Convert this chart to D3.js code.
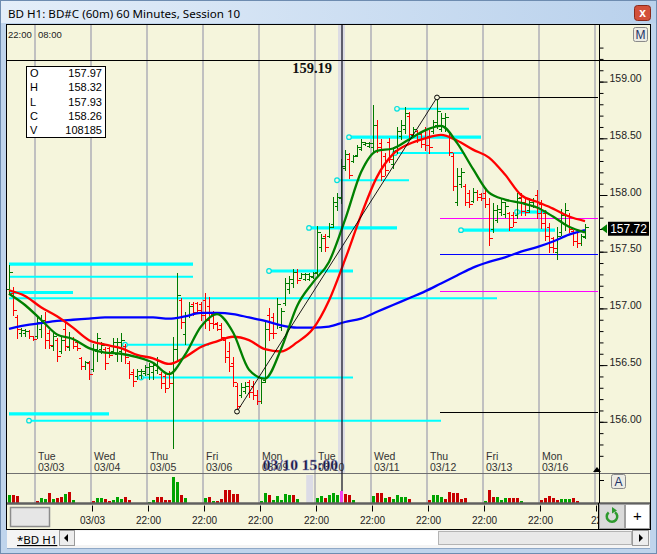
<!DOCTYPE html>
<html>
<head>
<meta charset="utf-8">
<title>BD H1</title>
<script src="https://cdn.jsdelivr.net/npm/d3@7/dist/d3.min.js"></script>
<style>
  body { margin: 0; background: #fff; }
  svg { display: block; }
  text { font-family: "Liberation Sans", Arial, sans-serif; }
</style>
</head>
<body>
<svg id="chart" width="657" height="554"></svg>
<script>
// hourly OHLC, one row per session (first row is the tail of 03/02)
var opens = [
  157.17,157.14,156.92,156.78,156.78,156.80,156.76,
  156.76,156.82,156.90,156.78,156.67,156.72,156.62,156.82,156.66,156.74,156.70,156.56,156.49,156.52,
  156.47,156.62,156.64,156.64,156.65,156.62,156.60,156.62,156.67,156.52,156.44,156.40,156.41,156.43,
  156.42,156.44,156.46,156.42,156.40,156.42,156.34,156.64,157.07,156.77,156.94,157.04,157.05,157.04,
  157.07,157.02,156.95,156.87,156.85,156.72,156.62,156.52,156.32,156.24,156.27,156.35,156.32,156.24,
  156.18,156.37,156.94,156.92,156.86,156.84,157.05,157.17,157.22,157.32,157.27,157.26,157.26,157.28,
  157.32,157.54,157.64,157.64,157.74,157.90,157.97,158.24,158.32,158.30,158.35,158.41,158.45,158.43,
  158.42,158.62,158.46,158.34,158.47,158.27,158.40,158.52,158.58,158.70,158.53,158.56,158.54,158.57,
  158.52,158.56,158.62,158.58,158.60,158.52,158.34,157.94,158.10,158.08,158.02,157.95,158.03,158.01,
  158.02,157.92,157.70,157.78,157.85,157.83,157.84,157.82,157.82,157.98,157.94,157.87,157.90,158.00,
  157.92,157.84,157.72,157.62,157.50,157.67,157.74,157.82,157.68,157.67,157.58,157.63
];
var highs = [
  157.38,157.19,156.94,156.83,156.82,156.81,156.76,
  156.92,156.94,156.97,156.81,156.79,156.74,156.76,156.88,156.79,156.75,156.72,156.57,156.54,156.54,
  156.69,156.78,156.70,156.66,156.66,156.74,156.74,156.78,156.69,156.54,156.47,156.47,156.47,156.50,
  156.52,156.52,156.57,156.44,156.44,156.45,156.75,157.31,157.09,156.97,157.06,157.06,157.06,157.06,
  157.14,157.10,156.98,156.88,156.87,156.74,156.70,156.57,156.34,156.34,156.35,156.37,156.36,156.28,
  156.38,156.90,157.00,156.96,157.09,157.00,157.27,157.29,157.35,157.35,157.31,157.31,157.31,157.32,
  157.73,157.66,157.66,157.75,157.98,158.02,158.32,158.40,158.37,158.35,158.44,158.49,158.47,158.47,
  158.79,158.66,158.49,158.37,158.50,158.42,158.60,158.66,158.78,158.73,158.60,158.57,158.56,158.60,
  158.57,158.66,158.86,158.72,158.72,158.55,158.37,158.24,158.24,158.10,158.04,158.06,158.04,158.02,
  158.04,157.97,157.93,157.91,157.97,157.94,157.85,157.85,158.02,158.02,157.97,157.97,157.97,158.04,
  157.96,157.87,157.75,157.63,157.72,157.88,157.93,157.84,157.69,157.69,157.66,157.74
];
var lows = [
  157.13,156.94,156.74,156.76,156.76,156.74,156.72,
  156.74,156.75,156.65,156.65,156.63,156.54,156.61,156.63,156.63,156.65,156.63,156.47,156.47,156.38,
  156.45,156.54,156.61,156.47,156.57,156.61,156.54,156.54,156.52,156.39,156.32,156.38,156.39,156.41,
  156.38,156.38,156.43,156.30,156.26,156.31,155.77,156.54,156.83,156.69,156.92,156.94,156.97,156.90,
  156.83,156.81,156.83,156.81,156.72,156.53,156.45,156.32,156.09,156.22,156.25,156.22,156.20,156.16,
  156.17,156.35,156.72,156.74,156.83,156.81,157.03,157.14,157.19,157.22,157.27,157.25,157.25,157.27,
  157.28,157.51,157.51,157.63,157.72,157.87,157.93,158.22,158.15,158.29,158.34,158.40,158.44,158.42,
  158.38,158.38,158.13,158.18,158.29,158.24,158.37,158.49,158.55,158.51,158.51,158.47,158.42,158.40,
  158.37,158.55,158.59,158.56,158.56,158.35,158.04,157.91,158.07,157.91,157.89,157.94,157.96,157.96,
  157.89,157.56,157.67,157.76,157.82,157.81,157.69,157.73,157.80,157.82,157.82,157.85,157.89,157.80,
  157.71,157.60,157.50,157.50,157.44,157.65,157.69,157.67,157.56,157.54,157.56,157.62
];
var closes = [
  157.32,156.99,156.82,156.81,156.80,156.76,156.73,
  156.88,156.90,156.72,156.68,156.76,156.58,156.72,156.67,156.74,156.67,156.65,156.49,156.53,156.42,
  156.64,156.74,156.68,156.52,156.59,156.70,156.70,156.72,156.57,156.42,156.36,156.45,156.45,156.48,
  156.49,156.50,156.54,156.34,156.30,156.34,156.64,157.12,156.88,156.94,157.02,156.97,156.99,156.94,
  156.90,156.87,156.86,156.82,156.75,156.57,156.49,156.35,156.14,156.31,156.32,156.26,156.24,156.18,
  156.35,156.82,156.78,156.78,157.04,156.98,157.22,157.26,157.32,157.25,157.30,157.30,157.29,157.31,
  157.67,157.62,157.54,157.72,157.94,157.98,158.26,158.36,158.18,158.34,158.42,158.47,158.46,158.46,
  158.62,158.42,158.17,158.22,158.32,158.39,158.56,158.62,158.72,158.54,158.58,158.49,158.45,158.44,
  158.42,158.64,158.74,158.68,158.69,158.38,158.08,158.17,158.20,157.94,157.92,158.03,157.98,157.97,
  157.92,157.62,157.87,157.88,157.94,157.90,157.72,157.76,157.97,157.86,157.85,157.94,157.95,157.84,
  157.75,157.64,157.54,157.53,157.64,157.82,157.87,157.70,157.59,157.58,157.64,157.72
];
// volume per bar (null = no print), and whether the volume bar is an up bar
var volumes = [
  73000,73000,64000,null,null,null,null,
  20000,47000,38000,91000,38000,47000,55000,82000,99000,29000,null,null,null,null,
  20000,47000,47000,38000,20000,29000,55000,38000,55000,29000,null,null,null,null,
  11000,29000,55000,55000,29000,29000,231000,187000,73000,47000,null,null,null,null,
  47000,55000,20000,20000,38000,117000,117000,82000,82000,null,null,null,null,null,
  20000,91000,73000,29000,64000,29000,82000,73000,73000,38000,null,null,null,null,
  47000,64000,47000,73000,91000,73000,108185,82000,73000,29000,null,null,null,null,
  64000,91000,91000,47000,55000,38000,73000,55000,55000,38000,null,null,null,null,
  29000,73000,73000,55000,38000,99000,91000,91000,38000,47000,null,null,null,null,
  20000,117000,55000,55000,29000,47000,47000,47000,47000,20000,null,null,null,null,
  29000,47000,64000,47000,29000,38000,38000,38000,47000,20000,null,null
];
var volUp = [
  1,0,0,0,0,0,0,
  0,1,1,0,1,0,0,1,0,1,0,0,0,0,
  0,1,1,0,0,1,1,1,0,0,0,0,0,0,
  1,1,0,0,0,0,1,1,0,1,0,0,0,0,
  1,0,1,0,0,0,0,0,0,0,0,0,0,0,
  1,1,0,1,1,1,1,1,0,1,0,0,0,0,
  1,1,0,1,1,1,1,0,0,1,0,0,0,0,
  1,0,0,1,0,1,1,1,1,0,0,0,0,0,
  0,1,1,1,0,0,0,0,0,0,0,0,0,0,
  1,0,0,1,1,1,0,0,0,1,0,0,0,0,
  0,0,0,0,0,1,1,1,0,0,0,0
];

// moving averages read every 4 bars
var maStep = 4;
var maFast = [157.13,157.03,156.90,156.77,156.73,156.65,156.61,156.60,156.57,156.52,156.42,156.59,156.84,
  156.95,156.79,156.46,156.38,156.64,157.02,157.23,157.41,157.78,158.20,158.39,158.41,158.49,158.57,
  158.61,158.46,158.23,158.02,157.96,157.93,157.89,157.81,157.72,157.67];
var maMid = [157.16,157.11,157.01,156.93,156.83,156.72,156.68,156.65,156.59,156.56,156.51,156.57,156.66,
  156.71,156.75,156.72,156.64,156.62,156.70,156.82,157.07,157.43,157.82,158.16,158.36,158.45,158.50,
  158.53,158.48,158.40,158.33,158.18,158.00,157.94,157.88,157.81,157.77];
var maSlow = [156.82,156.85,156.87,156.89,156.90,156.91,156.92,156.92,156.92,156.92,156.91,156.93,156.96,
  156.96,156.95,156.92,156.89,156.85,156.83,156.83,156.84,156.88,156.91,156.97,157.03,157.09,157.15,
  157.22,157.29,157.36,157.41,157.45,157.50,157.54,157.59,157.65,157.69];

// drawn levels: [first bar, last bar, price]
var cyanThick = [[0,46,157.39],[0,16,157.14],[0,25,156.07],[65,86,157.33],[85,118,158.51],
  [75,97,157.71],[113,136.5,157.69],[127,134.5,157.85]];
var cyanThin = [[0,46,157.28],[0,122,157.09],[29,50,156.68],[33,86,156.39],[5,108,156.01],
  [97,115,158.76],[96.5,113.5,158.37],[82,100,158.13]];
var pivotLow = 57, pivotHigh = 107;
var fibLevels = [156.09, 157.15, 157.48, 157.80, 158.86];
var fibStart = 107.75;

var cursorBar = 83;
var cursorPrice = 159.19;
var cursorTime = '03/10 15:00';
var lastPrice = 157.72;

var dayNames = ['Tue','Wed','Thu','Fri','Mon','Tue','Wed','Thu','Fri','Mon'];
var dayDates = ['03/03','03/04','03/05','03/06','03/09','03/10','03/11','03/12','03/13','03/16'];
var headLabels = ['22:00','08:00'];
var timeLabels = ['03/03','22:00','22:00','22:00','22:00','22:00','22:00','22:00','22:00','22'];
var priceTicks = [156, 156.5, 157, 157.5, 158, 158.5, 159];
var ohlcNames = ['O','H','L','C','V'];

// ---- layout ----
var svg = d3.select('#chart');
var beige = '#F5F5DC';
var plotL = 7, plotR = 598, plotT = 25, priceBottom = 473, volBottom = 503;

var x = d3.scaleLinear().domain([0, 144]).range([9, 585]);
var y = d3.scaleLinear().domain([156, 159]).range([421.8, 81.6]);
var vy = d3.scaleLinear().domain([0, 264000]).range([volBottom, priceBottom]);
var gridIdx = d3.range(11).map(function (k) { return 6.5 + 14 * k; });
var px = function (i) { return Math.round(x(i)) + 0.5; };

// window chrome
var defs = svg.append('defs');
var tg = defs.append('linearGradient').attr('id', 'tbar');
tg.append('stop').attr('offset', '0').attr('stop-color', '#E4EEF9');
tg.append('stop').attr('offset', '1').attr('stop-color', '#B9D1EC');
defs.append('clipPath').attr('id', 'plotclip').append('rect')
  .attr('x', plotL).attr('y', plotT).attr('width', plotR - plotL).attr('height', volBottom - plotT);
defs.append('clipPath').attr('id', 'axisclip').append('rect')
  .attr('x', plotL).attr('y', volBottom).attr('width', plotR - plotL).attr('height', 26);

svg.append('rect').attr('width', 657).attr('height', 554).attr('fill', '#BFD4EC');
svg.append('rect').attr('x', 0.5).attr('y', 0.5).attr('width', 656).attr('height', 553)
  .attr('fill', 'none').attr('stroke', '#6E8CB0');
svg.append('rect').attr('x', 1).attr('y', 1).attr('width', 655).attr('height', 22).attr('fill', 'url(#tbar)');
svg.append('text').attr('x', 8).attr('y', 18).attr('font-size', 11.6)
  .style('font-family', '"Noto Sans", sans-serif').attr('fill', '#000')
  .text('BD H1: BD#C (60m) 60 Minutes, Session 10');
svg.append('rect').attr('x', 634.5).attr('y', 5.5).attr('width', 16).attr('height', 15).attr('rx', 3)
  .attr('fill', '#D2503A').attr('stroke', '#8B2A1C');
svg.append('text').attr('x', 642.5).attr('y', 17).attr('text-anchor', 'middle').attr('font-size', 12)
  .attr('font-weight', 'bold').attr('fill', '#fff').text('x');

// chart frame
svg.append('rect').attr('x', 6.5).attr('y', 24.5).attr('width', 644).attr('height', 505)
  .attr('fill', beige).attr('stroke', '#000');

// day grid lines through price and volume panels
svg.append('g').selectAll('line').data(gridIdx).join('line')
  .attr('x1', function (d) { return Math.round(x(d)); }).attr('x2', function (d) { return Math.round(x(d)); })
  .attr('y1', plotT).attr('y2', volBottom)
  .attr('stroke', '#C0C0C0').attr('stroke-width', 2);

var plot = svg.append('g').attr('clip-path', 'url(#plotclip)');

// cursor column
plot.append('rect').attr('x', x(cursorBar) - 3).attr('y', plotT).attr('width', 7).attr('height', priceBottom - plotT)
  .attr('fill', '#DCDCE4');
plot.append('rect').attr('x', x(74.3)).attr('y', 475).attr('width', 7).attr('height', volBottom - 475)
  .attr('fill', '#DCDCE6');

// header labels
svg.append('text').attr('x', x(0) - 1).attr('y', 38).attr('font-size', 9.5).attr('fill', '#222').text(headLabels[0]);
svg.append('text').attr('x', x(gridIdx[0]) + 3).attr('y', 38).attr('font-size', 9.5).attr('fill', '#222').text(headLabels[1]);

// cyan support / resistance lines
function levelLines(data, width) {
  plot.append('g').selectAll('line').data(data).join('line')
    .attr('x1', function (d) { return x(d[0]); }).attr('x2', function (d) { return x(d[1]); })
    .attr('y1', function (d) { return y(d[2]); }).attr('y2', function (d) { return y(d[2]); })
    .attr('stroke', '#00FFFF').attr('stroke-width', width);
  plot.append('g').selectAll('circle').data(data.filter(function (d) { return d[0] > 0; })).join('circle')
    .attr('cx', function (d) { return x(d[0]); }).attr('cy', function (d) { return y(d[2]); })
    .attr('r', 2.3).attr('fill', beige).attr('stroke', '#00E0E0').attr('stroke-width', 1.2);
}
levelLines(cyanThick, 3.2);
levelLines(cyanThin, 2);

// retracement lines
var fibColors = ['#000000', '#FF00FF', '#0000FF', '#FF00FF', '#000000'];
plot.append('g').selectAll('line').data(fibLevels).join('line')
  .attr('x1', function (d, k) { return k === 4 ? x(pivotHigh) : x(fibStart); }).attr('x2', plotR)
  .attr('y1', function (d) { return Math.round(y(d)) + 0.5; }).attr('y2', function (d) { return Math.round(y(d)) + 0.5; })
  .attr('stroke', function (d, k) { return fibColors[k]; }).attr('stroke-width', 1);

// OHLC bars
var bars = plot.append('g').attr('shape-rendering', 'crispEdges');
var idx = d3.range(opens.length);
var barColor = function (i) { return closes[i] >= opens[i] ? '#007A00' : '#FF0000'; };
bars.selectAll('line.hl').data(idx).join('line').attr('class', 'hl')
  .attr('x1', px).attr('x2', px)
  .attr('y1', function (i) { return y(highs[i]); }).attr('y2', function (i) { return y(lows[i]) + 1; })
  .attr('stroke', barColor).attr('stroke-width', 1);
bars.selectAll('line.op').data(idx).join('line').attr('class', 'op')
  .attr('x1', function (i) { return px(i) - 3; }).attr('x2', px)
  .attr('y1', function (i) { return Math.round(y(opens[i])) + 0.5; }).attr('y2', function (i) { return Math.round(y(opens[i])) + 0.5; })
  .attr('stroke', barColor);
bars.selectAll('line.cl').data(idx).join('line').attr('class', 'cl')
  .attr('x1', px).attr('x2', function (i) { return px(i) + 3; })
  .attr('y1', function (i) { return Math.round(y(closes[i])) + 0.5; }).attr('y2', function (i) { return Math.round(y(closes[i])) + 0.5; })
  .attr('stroke', barColor);

// moving averages
var maLine = d3.line()
  .x(function (d, k) { return x(k * maStep); })
  .y(function (d) { return y(d); })
  .curve(d3.curveMonotoneX);
plot.append('path').datum(maSlow).attr('d', maLine).attr('fill', 'none').attr('stroke', '#0000FF').attr('stroke-width', 2.3);
plot.append('path').datum(maMid).attr('d', maLine).attr('fill', 'none').attr('stroke', '#FF0000').attr('stroke-width', 2.3);
plot.append('path').datum(maFast).attr('d', maLine).attr('fill', 'none').attr('stroke', '#008000').attr('stroke-width', 2.3);

// trend line between the pivots
plot.append('line')
  .attr('x1', x(pivotLow)).attr('y1', y(lows[pivotLow]))
  .attr('x2', x(pivotHigh)).attr('y2', y(highs[pivotHigh]))
  .attr('stroke', '#000').attr('stroke-width', 0.9);
plot.selectAll('circle.pv').data([[pivotLow, lows[pivotLow]], [pivotHigh, highs[pivotHigh]]]).join('circle')
  .attr('class', 'pv').attr('cx', function (d) { return x(d[0]); }).attr('cy', function (d) { return y(d[1]); })
  .attr('r', 2.4).attr('fill', beige).attr('stroke', '#000').attr('stroke-width', 1);

// volume panel
svg.append('line').attr('x1', plotL).attr('x2', 650).attr('y1', priceBottom + 0.5).attr('y2', priceBottom + 0.5)
  .attr('stroke', '#707070');
plot.append('g').attr('shape-rendering', 'crispEdges')
  .selectAll('rect').data(idx.filter(function (i) { return volumes[i] != null; })).join('rect')
  .attr('x', function (i) { return Math.round(x(i)) - 1; }).attr('width', 3)
  .attr('y', function (i) { return vy(volumes[i]); })
  .attr('height', function (i) { return volBottom - vy(volumes[i]); })
  .attr('fill', function (i) { return i === cursorBar ? '#EE44EE' : (volUp[i] ? '#00A400' : '#C80000'); });
svg.append('line').attr('x1', plotL).attr('x2', 650).attr('y1', volBottom + 0.5).attr('y2', volBottom + 0.5)
  .attr('stroke', '#606060').attr('stroke-width', 2.5);

// day labels
var dayG = svg.append('g').attr('font-size', 10.5).attr('fill', '#333');
dayG.selectAll('text.dn').data(dayNames).join('text').attr('class', 'dn')
  .attr('x', function (d, k) { return x(gridIdx[k]) + 3; }).attr('y', 459.5).text(function (d) { return d; });
dayG.selectAll('text.dd').data(dayDates).join('text').attr('class', 'dd')
  .attr('x', function (d, k) { return x(gridIdx[k]) + 3; }).attr('y', 471).text(function (d) { return d; });

// crosshair
svg.append('line').attr('x1', plotL).attr('x2', 650).attr('y1', Math.round(y(cursorPrice)) + 0.5).attr('y2', Math.round(y(cursorPrice)) + 0.5)
  .attr('stroke', '#000').attr('stroke-width', 1.2);
svg.append('line').attr('x1', px(cursorBar) + 0.5).attr('x2', px(cursorBar) + 0.5).attr('y1', plotT).attr('y2', 491)
  .attr('stroke', '#1A1A2A').attr('stroke-width', 1.3);
svg.append('text').attr('x', x(cursorBar) - 9).attr('y', 73).attr('text-anchor', 'end')
  .style('font-family', '"Liberation Serif", serif').attr('font-weight', 'bold').attr('font-size', 14.5)
  .attr('fill', '#111').text(cursorPrice.toFixed(2));
svg.append('text').attr('x', x(cursorBar) - 3).attr('y', 470).attr('text-anchor', 'end')
  .style('font-family', '"Liberation Serif", serif').attr('font-weight', 'bold').attr('font-size', 15.5)
  .attr('fill', '#14143C').attr('stroke', '#9999CC').attr('stroke-width', 0.4)
  .text(cursorTime);

// data window box
var ohlcVals = [opens[cursorBar], highs[cursorBar], lows[cursorBar], closes[cursorBar]]
  .map(function (v) { return v.toFixed(2); }).concat([String(volumes[cursorBar])]);
var box = svg.append('g').style('font-family', '"Liberation Mono", monospace').attr('font-size', 11).attr('fill', '#000');
box.append('rect').attr('x', 26.5).attr('y', 66.5).attr('width', 79).attr('height', 71).attr('fill', '#fff').attr('stroke', '#000');
box.selectAll('text.n').data(ohlcNames).join('text').attr('class', 'n')
  .attr('x', 30).attr('y', function (d, k) { return 77 + k * 14.3; }).text(function (d) { return d; });
box.selectAll('text.v').data(ohlcVals).join('text').attr('class', 'v').attr('text-anchor', 'end')
  .attr('x', 102).attr('y', function (d, k) { return 77 + k * 14.3; }).text(function (d) { return d; });

// price axis
svg.append('line').attr('x1', plotR + 1.5).attr('x2', plotR + 1.5).attr('y1', plotT).attr('y2', volBottom)
  .attr('stroke', '#000');
var minor = svg.append('g').attr('transform', 'translate(' + (plotR + 1.5) + ',0)')
  .call(d3.axisRight(y).tickValues(d3.range(1557, 1594).map(function (v) { return v / 10; }))
    .tickSize(4).tickFormat(''));
minor.select('.domain').remove();
var major = svg.append('g').attr('transform', 'translate(' + (plotR + 1.5) + ',0)')
  .call(d3.axisRight(y).tickValues(priceTicks).tickSize(8).tickPadding(2).tickFormat(d3.format('.2f')));
major.select('.domain').remove();
major.selectAll('text').attr('font-size', 10.5).attr('dy', '0.02em').style('font-family', '"Liberation Sans", Arial, sans-serif').attr('fill', '#222');
svg.append('line').attr('x1', plotR + 1.5).attr('x2', plotR + 6).attr('y1', 480.5).attr('y2', 480.5).attr('stroke', '#000');

// last price marker
var lp = y(lastPrice) + 2;
svg.append('path').attr('d', 'M' + (plotR + 3) + ',' + lp + 'l6,-4.5v9z').attr('fill', '#008000');
svg.append('rect').attr('x', 608).attr('y', lp - 7).attr('width', 41).attr('height', 14).attr('fill', '#000');
svg.append('text').attr('x', 628.5).attr('y', lp + 4.5).attr('text-anchor', 'middle').attr('font-size', 12)
  .attr('fill', '#fff').text(lastPrice.toFixed(2));
svg.append('path').attr('d', 'M' + (plotR - 5) + ',' + (priceBottom - 1) + 'l4,-5l4,5z').attr('fill', '#000');

// M and A buttons
[[633, 27, 'M'], [611, 474, 'A']].forEach(function (b) {
  svg.append('rect').attr('x', b[0] + 0.5).attr('y', b[1] + 0.5).attr('width', 14).attr('height', 14).attr('rx', 2)
    .attr('fill', '#ECECE4').attr('stroke', '#8A8A8A');
  svg.append('text').attr('x', b[0] + 7.5).attr('y', b[1] + 12).attr('text-anchor', 'middle')
    .attr('font-size', 12).attr('fill', '#223366').text(b[2]);
});

// time axis
svg.append('line').attr('x1', plotR + 0.5).attr('x2', plotR + 0.5).attr('y1', volBottom).attr('y2', 529.5).attr('stroke', '#000');
svg.append('line').attr('x1', plotL).attr('x2', plotR).attr('y1', 529.5).attr('y2', 529.5).attr('stroke', '#000');
var tAxis = svg.append('g').attr('clip-path', 'url(#axisclip)').append('g').attr('transform', 'translate(0,505.5)')
  .call(d3.axisBottom(x).tickValues(gridIdx.slice(1)).tickSize(6).tickPadding(5)
    .tickFormat(function (d, k) { return timeLabels[k]; }));
tAxis.select('.domain').remove();
tAxis.selectAll('line').attr('transform', 'translate(1,0)');
tAxis.selectAll('text').attr('font-size', 10).attr('dx', 1).style('font-family', '"Liberation Sans", Arial, sans-serif').attr('fill', '#222');
svg.append('rect').attr('x', 10.5).attr('y', 507.5).attr('width', 39).attr('height', 19)
  .attr('fill', '#E6E6E6').attr('stroke', '#8C8C8C').attr('stroke-width', 1.5);

// refresh and + buttons
svg.append('rect').attr('x', 599.5).attr('y', 504.5).attr('width', 25).attr('height', 24).attr('fill', '#DADADA').attr('stroke', '#A0A0A0');
svg.append('path').attr('d', d3.arc()({ innerRadius: 4, outerRadius: 6.5, startAngle: 0.6, endAngle: 5.6 }))
  .attr('transform', 'translate(612,516.5)').attr('fill', '#2E9A2E');
svg.append('path').attr('d', 'M612,507l5,3.5l-5,3z').attr('fill', '#2E9A2E');
svg.append('rect').attr('x', 625.5).attr('y', 504.5).attr('width', 24).attr('height', 24).attr('fill', '#fff').attr('stroke', '#A0A0A0');
svg.append('text').attr('x', 637.5).attr('y', 521).attr('text-anchor', 'middle').attr('font-size', 15).attr('fill', '#000').text('+');

// tab strip and scroll bar
svg.append('rect').attr('x', 7).attr('y', 530).attr('width', 643).attr('height', 18).attr('fill', '#F4F4F4');
svg.append('text').attr('x', 17).attr('y', 544).attr('font-size', 11.5)
  .style('font-family', '"Noto Sans", sans-serif').attr('fill', '#000')
  .attr('text-decoration', 'underline').text('*BD H1');
svg.append('rect').attr('x', 59.5).attr('y', 530.5).attr('width', 15).attr('height', 15).attr('fill', '#EDEDED').attr('stroke', '#9A9A9A');
svg.append('path').attr('d', 'M64,538l4,-4v8z').attr('fill', '#000');
svg.append('rect').attr('x', 75).attr('y', 531).attr('width', 557).attr('height', 14).attr('fill', '#FFFFFF');
svg.append('rect').attr('x', 438.5).attr('y', 531.5).attr('width', 193).attr('height', 13).attr('fill', '#E8E8E8').attr('stroke', '#B4B4B4');
svg.append('rect').attr('x', 632.5).attr('y', 530.5).attr('width', 16).attr('height', 15).attr('fill', '#EDEDED').attr('stroke', '#9A9A9A');
svg.append('path').attr('d', 'M643,538l-4,-4v8z').attr('fill', '#000');
svg.append('line').attr('x1', 7).attr('x2', 650).attr('y1', 548.5).attr('y2', 548.5).attr('stroke', '#8FA8C6');
</script>
</body>
</html>
